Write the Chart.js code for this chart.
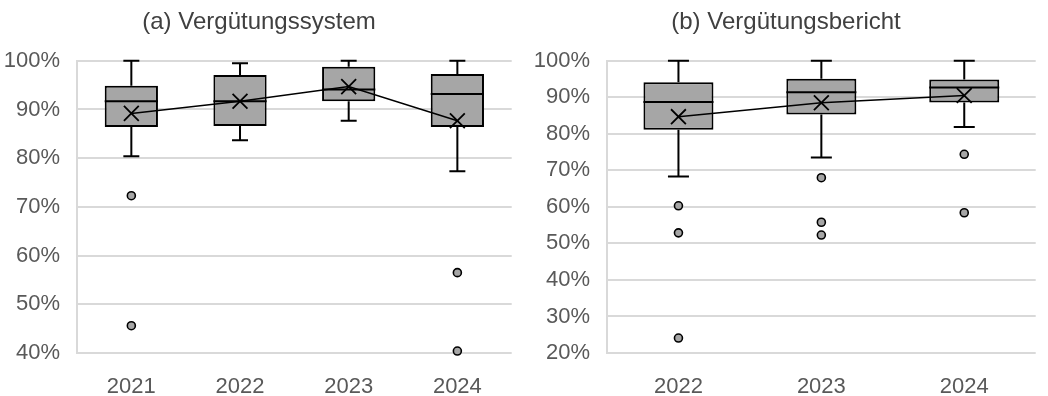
<!DOCTYPE html>
<html>
<head>
<meta charset="utf-8">
<title>Vergütung Boxplots</title>
<script src="https://cdn.jsdelivr.net/npm/chart.js@4.4.1/dist/chart.umd.min.js"></script>
<style>
	body { margin: 0; background: #fff; }
	#left { position: absolute; left: 0; top: 0; }
	#right { position: absolute; left: 530px; top: 0; }
</style>
</head>
<body>
<canvas id="left" width="524" height="396"></canvas>
<canvas id="right" width="518" height="396"></canvas>
<script>
// (a) Vergütungssystem
var yearsA = ['2021', '2022', '2023', '2024'];
var minA = [80.4, 83.7, 87.7, 77.3];
var q1A = [86.4, 86.6, 91.7, 86.4];
var medA = [91.7, 91.7, 94.1, 93.2];
var q3A = [94.9, 97.1, 98.8, 97.3];
var maxA = [100, 99.5, 100, 100];
var meanA = [89.2, 91.7, 94.7, 87.7];
var outA = [[72.3, 45.6], [], [], [56.5, 40.4]];
var ticksA = [40, 50, 60, 70, 80, 90, 100];

// (b) Vergütungsbericht
var yearsB = ['2022', '2023', '2024'];
var minB = [68.3, 73.5, 81.9];
var q1B = [81.1, 85.3, 88.6];
var medB = [88.7, 91.4, 92.7];
var q3B = [94.1, 95.1, 94.9];
var maxB = [100, 100, 100];
var meanB = [84.7, 88.5, 90.5];
var outB = [[60.3, 52.9, 24.1], [68.0, 55.8, 52.3], [74.4, 58.4]];
var ticksB = [20, 30, 40, 50, 60, 70, 80, 90, 100];

// whiskers, caps and median drawn right after the boxes
var boxExtras = {
	id: 'boxExtras',
	afterDatasetDraw: function(chart, args, opts) {
		if (args.index !== 0) return;
		var ctx = chart.ctx;
		var y = chart.scales.y;
		var meta = chart.getDatasetMeta(0);
		ctx.save();
		ctx.strokeStyle = '#000';
		ctx.lineWidth = 2;
		meta.data.forEach(function(el, i) {
			var x = el.x, w = el.width, cap = w * 0.3;
			var top = y.getPixelForValue(opts.q3[i]);
			var bot = y.getPixelForValue(opts.q1[i]);
			var hi = y.getPixelForValue(opts.max[i]);
			var lo = y.getPixelForValue(opts.min[i]);
			var md = y.getPixelForValue(opts.med[i]);
			ctx.beginPath();
			ctx.moveTo(x, top); ctx.lineTo(x, hi);
			ctx.moveTo(x - cap / 2, hi); ctx.lineTo(x + cap / 2, hi);
			ctx.moveTo(x, bot); ctx.lineTo(x, lo);
			ctx.moveTo(x - cap / 2, lo); ctx.lineTo(x + cap / 2, lo);
			ctx.moveTo(x - w / 2, md); ctx.lineTo(x + w / 2, md);
			ctx.stroke();
		});
		ctx.restore();
	}
};

function makeBox(id, title, years, mn, q1, med, q3, mx, mean, outs, ticks) {
	var boxes = [];
	for (var i = 0; i < years.length; i++) {
		boxes.push([q1[i], q3[i]]);
	}
	var points = [];
	for (var i = 0; i < years.length; i++) {
		for (var j = 0; j < outs[i].length; j++) {
			points.push({ x: years[i], y: outs[i][j] });
		}
	}

	var data1 = {
		labels: years,
		datasets: [
			{
				type: 'bar',
				data: boxes,
				backgroundColor: '#a6a6a6',
				borderColor: '#000',
				borderWidth: 2,
				borderSkipped: false,
				categoryPercentage: 1,
				barPercentage: 0.49,
				order: 3
			},
			{
				type: 'line',
				data: mean,
				borderColor: '#000',
				borderWidth: 1.5,
				fill: false,
				tension: 0,
				pointStyle: 'crossRot',
				pointRadius: 10.5,
				pointBorderWidth: 1.8,
				pointBorderColor: '#000',
				order: 1
			},
			{
				type: 'line',
				data: points,
				showLine: false,
				pointStyle: 'circle',
				pointRadius: 4,
				pointBackgroundColor: '#a6a6a6',
				pointBorderColor: '#000',
				pointBorderWidth: 1.6,
				clip: false,
				order: 0
			}
		]
	};

	var options = {
		responsive: false,
		animation: false,
		devicePixelRatio: 1,
		layout: { padding: { left: 0, right: 6, top: 0, bottom: 0 } },
		plugins: {
			legend: { display: false },
			tooltip: { enabled: false },
			title: {
				display: true,
				text: title,
				color: '#404040',
				font: { family: 'Liberation Sans, Arial, sans-serif', size: 24, weight: 'normal' },
				padding: { top: 8, bottom: 24 }
			},
			boxExtras: { min: mn, q1: q1, med: med, q3: q3, max: mx }
		},
		scales: {
			x: {
				afterFit: function(scale) { scale.height = 43; },
				grid: { display: false, drawTicks: false },
				border: { display: false },
				ticks: {
					color: '#595959',
					padding: 21,
					font: { family: 'Liberation Sans, Arial, sans-serif', size: 22 }
				}
			},
			y: {
				min: ticks[0],
				max: ticks[ticks.length - 1],
				afterBuildTicks: function(scale) {
					scale.ticks = ticks.map(function(v) { return { value: v }; });
				},
				afterFit: function(scale) { scale.width = 77; },
				grid: { color: '#d9d9d9', lineWidth: 2, drawTicks: false },
				border: { color: '#d9d9d9', width: 2 },
				ticks: {
					color: '#595959',
					padding: 17,
					font: { family: 'Liberation Sans, Arial, sans-serif', size: 22 },
					callback: function(v) { return v + '%'; }
				}
			}
		}
	};

	return new Chart(document.getElementById(id), {
		type: 'bar',
		data: data1,
		options: options,
		plugins: [boxExtras]
	});
}

makeBox('left', '(a) Vergütungssystem', yearsA, minA, q1A, medA, q3A, maxA, meanA, outA, ticksA);
makeBox('right', '(b) Vergütungsbericht', yearsB, minB, q1B, medB, q3B, maxB, meanB, outB, ticksB);
</script>
</body>
</html>
